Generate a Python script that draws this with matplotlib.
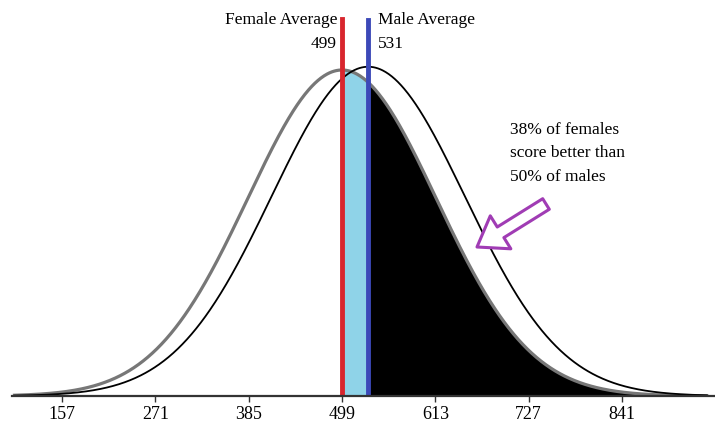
import numpy as np
import matplotlib
matplotlib.use("Agg")
import matplotlib.pyplot as plt

# distribution parameters
female_mean = 499
male_mean = 531
female_sd = 115
male_sd = 118
female_peak = 1.0
male_peak = 1.01
tick_values = [157, 271, 385, 499, 613, 727, 841]
note_text = "38% of females\nscore better than\n50% of males"

plt.rcParams['font.family'] = ['Liberation Serif', 'DejaVu Serif']

W, H = 715, 423
base_px = 396          # baseline row in pixels from top
left_px = 12           # where the baseline starts
px_per_unit = 560 / 684


def bell(x, mu, sd, peak):
    return peak * np.exp(-0.5 * ((x - mu) / sd) ** 2)


fig = plt.figure(figsize=(W / 100, H / 100), dpi=100)
ax = fig.add_axes([left_px / W, (H - base_px) / H, 1 - left_px / W, base_px / H])

x0 = 157 - (62 - left_px) / px_per_unit
x1 = 157 + (W - 62) / px_per_unit
ax.set_xlim(x0, x1)
ytop = female_peak * base_px / 326
ax.set_ylim(0, ytop)


def ypix(p):
    # pixel row from top -> data y
    return ytop * (base_px - p) / base_px


x = np.linspace(x0 + 3, x1 - 10, 900)
yf = bell(x, female_mean, female_sd, female_peak)
ym = bell(x, male_mean, male_sd, male_peak)

# shaded areas under the female curve
mid = (x >= female_mean) & (x <= male_mean)
right = x >= male_mean
ax.fill_between(x, 0, yf, where=mid, color="#8fd3e8", linewidth=0)
ax.fill_between(x, 0, yf, where=right, color="black", linewidth=0)

ax.plot(x, yf, color="#777777", lw=2.3)
ax.plot(x, ym, color="black", lw=1.3)

# average lines
ax.axvline(female_mean, ymin=0, ymax=(base_px - 19) / base_px, color="#d8262e", lw=3.5)
ax.axvline(male_mean, ymin=0, ymax=(base_px - 20) / base_px, color="#3c49b8", lw=3.5)

ax.text(female_mean - 6, ypix(20), "Female Average", ha="right", va="center", fontsize=12.5)
ax.text(female_mean - 6, ypix(44), str(female_mean), ha="right", va="center", fontsize=12.5)
ax.text(male_mean + 12, ypix(20), "Male Average", ha="left", va="center", fontsize=12.5)
ax.text(male_mean + 12, ypix(44), str(male_mean), ha="left", va="center", fontsize=12.5)

fig.text(510 / W, 1 - 122 / H, note_text, ha="left", va="top",
         fontsize=12.5, linespacing=1.62)

ax.annotate("", xy=(477, H - 247), xycoords="figure pixels",
            xytext=(546, H - 204), textcoords="figure pixels",
            arrowprops=dict(arrowstyle="simple,head_width=2.8,head_length=2.0,tail_width=0.9",
                            mutation_scale=10, fc="white", ec="#a03cb4", lw=2.2,
                            shrinkA=0, shrinkB=0))

# axis styling
for s in ["top", "right", "left"]:
    ax.spines[s].set_visible(False)
ax.spines["bottom"].set_linewidth(1.6)
ax.spines["bottom"].set_color("#333333")
ax.set_yticks([])
ax.set_xticks(tick_values)
ax.set_xticklabels([str(t) for t in tick_values], fontsize=13)
ax.tick_params(axis="x", direction="out", length=4, width=1, pad=3, colors="#333333",
               labelcolor="black")

fig.savefig("out.png", dpi=100)
